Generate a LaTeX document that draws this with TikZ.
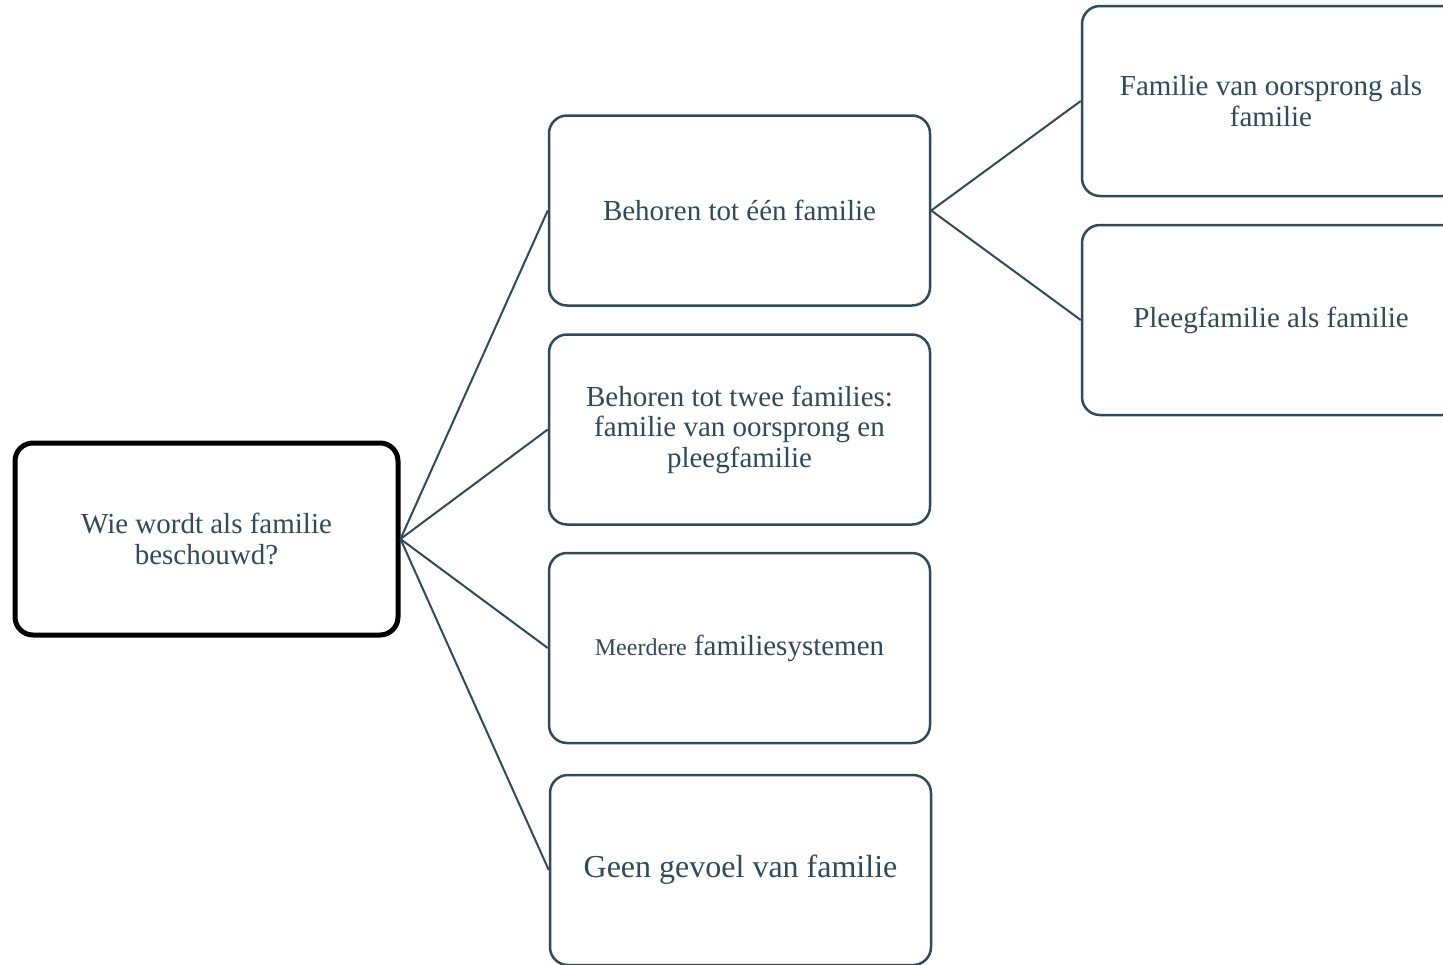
\documentclass[tikz,border=0pt]{standalone}
\usepackage{fontspec}
\setmainfont{Liberation Serif}
\definecolor{slate}{HTML}{2E4A5B}
\begin{document}
\begin{tikzpicture}[x=1pt,y=-1pt,
  box/.style={draw=slate, line width=2.5pt, rounded corners=18pt, fill=white,
    minimum width=381pt, minimum height=190pt, align=center, text=slate,
    font=\fontsize{29}{30.5}\selectfont, inner sep=0pt},
  rootbox/.style={box, draw=black, line width=5pt, minimum width=383pt, minimum height=192pt},
  link/.style={draw=slate, line width=2pt}]
\useasboundingbox (0,0) rectangle (1443,964);
\clip (0,0) rectangle (1443,964);
\node[rootbox] (root) at (206.5,539) {Wie wordt als familie\\beschouwd?};
\node[box] (b1) at (739.5,210.5) {Behoren tot één familie};
\node[box] (b2) at (739.5,429.5) {Behoren tot twee families:\\familie van oorsprong en\\pleegfamilie};
\node[box] (b3) at (739.5,648) {{\fontsize{24}{30.5}\selectfont Meerdere} familiesystemen};
\node[box, font=\fontsize{32}{34}\selectfont] (b4) at (740.5,870) {Geen gevoel van familie};
\node[box, minimum width=378pt] (r1) at (1271,101) {Familie van oorsprong als\\familie};
\node[box, minimum width=378pt] (r2) at (1271,320) {Pleegfamilie als familie};
\draw[link] (root.east) -- (b1.west);
\draw[link] (root.east) -- (b2.west);
\draw[link] (root.east) -- (b3.west);
\draw[link] (root.east) -- (b4.west);
\draw[link] (b1.east) -- (r1.west);
\draw[link] (b1.east) -- (r2.west);
\end{tikzpicture}
\end{document}
